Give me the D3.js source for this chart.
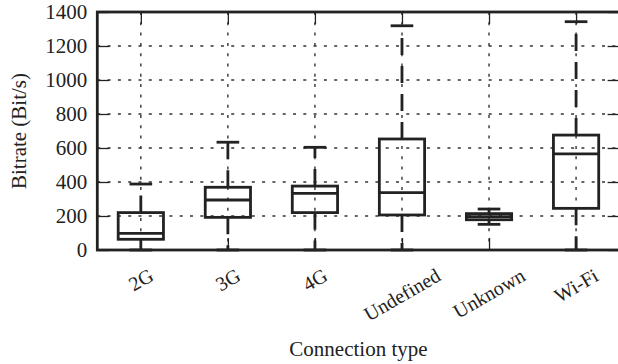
<!DOCTYPE html>
<html>
<head>
<meta charset="utf-8">
<script src="https://cdn.jsdelivr.net/npm/d3@7"></script>
<style>
  body { margin: 0; background: #fff; }
  svg { display: block; }
</style>
</head>
<body>
<svg id="chart" width="618" height="364"></svg>
<script>
// box plot data
var categories = ["2G", "3G", "4G", "Undefined", "Unknown", "Wi-Fi"];
var lowWhisker = [0, 0, 0, 0, 151, 0];
var q1 = [63, 192, 220, 206, 178, 245];
var median = [98, 294, 333, 337, 196, 565];
var q3 = [220, 369, 376, 653, 214, 676];
var highWhisker = [388, 634, 604, 1319, 241, 1343];
var yTicks = [0, 200, 400, 600, 800, 1000, 1200, 1400];

var svg = d3.select("#chart");
var plotL = 97.3, plotR = 619.6, plotT = 12, plotB = 250;
var ink = "#222";
var serif = "'Liberation Serif', 'Times New Roman', serif";

var x = d3.scalePoint().domain(categories).range([plotL, plotR]).padding(0.5);
var y = d3.scaleLinear().domain([0, 1400]).range([plotB, plotT]);
var step = x.step();
var boxW = step * 0.52;
var capW = boxW / 2;

// dotted grid
var grid = svg.append("g").attr("class", "grid");
grid.selectAll("line.h").data(yTicks.slice(1, -1)).join("line")
	.attr("class", "h")
	.attr("x1", plotL).attr("x2", plotR)
	.attr("y1", d => y(d)).attr("y2", d => y(d));
grid.selectAll("line.v").data(categories).join("line")
	.attr("class", "v")
	.attr("x1", d => x(d)).attr("x2", d => x(d))
	.attr("y1", plotT).attr("y2", plotB);
grid.selectAll("line")
	.attr("stroke", "#333").attr("stroke-width", 1.4)
	.attr("stroke-dasharray", "3,7.3");

// axes with inward ticks on all four sides
function styleAxis(g) {
	g.select(".domain").remove();
	g.selectAll(".tick line").attr("stroke", ink).attr("stroke-width", 1.3);
}
svg.append("g").attr("transform", `translate(${plotL},0)`)
	.call(d3.axisLeft(y).tickValues(yTicks).tickSize(-12).tickPadding(10).tickFormat(d3.format("d")))
	.call(styleAxis)
	.call(g => g.attr("font-family", null).attr("font-size", null))
	.selectAll("text")
	.style("font-family", serif).style("font-size", "21px").attr("fill", ink);
svg.append("g").attr("transform", `translate(${plotR},0)`)
	.call(d3.axisRight(y).tickValues(yTicks).tickSize(-12).tickFormat(""))
	.call(styleAxis);
svg.append("g").attr("transform", `translate(0,${plotB})`)
	.call(d3.axisBottom(x).tickSize(-12).tickFormat(""))
	.call(styleAxis);
svg.append("g").attr("transform", `translate(0,${plotT})`)
	.call(d3.axisTop(x).tickSize(-12).tickFormat(""))
	.call(styleAxis);

// boxes
var rows = categories.map((c, i) => ({
	c: c, lo: lowWhisker[i], q1: q1[i], med: median[i], q3: q3[i], hi: highWhisker[i]
}));
var box = svg.append("g").selectAll("g").data(rows).join("g");

box.append("line") // lower whisker
	.attr("x1", d => x(d.c)).attr("x2", d => x(d.c))
	.attr("y1", d => y(d.q1)).attr("y2", d => y(d.lo))
	.attr("stroke-dasharray", "17,11");
box.append("line") // upper whisker
	.attr("x1", d => x(d.c)).attr("x2", d => x(d.c))
	.attr("y1", d => y(d.q3)).attr("y2", d => y(d.hi))
	.attr("stroke-dasharray", "17,11");
box.append("line") // caps
	.attr("x1", d => x(d.c) - capW / 2).attr("x2", d => x(d.c) + capW / 2)
	.attr("y1", d => y(d.lo)).attr("y2", d => y(d.lo));
box.append("line")
	.attr("x1", d => x(d.c) - capW / 2).attr("x2", d => x(d.c) + capW / 2)
	.attr("y1", d => y(d.hi)).attr("y2", d => y(d.hi));
box.append("rect")
	.attr("x", d => x(d.c) - boxW / 2).attr("width", boxW)
	.attr("y", d => y(d.q3)).attr("height", d => y(d.q1) - y(d.q3))
	.attr("fill", "none");
box.append("line") // median
	.attr("x1", d => x(d.c) - boxW / 2).attr("x2", d => x(d.c) + boxW / 2)
	.attr("y1", d => y(d.med)).attr("y2", d => y(d.med));
box.selectAll("line, rect").attr("stroke", ink).attr("stroke-width", 2.8);

// frame
svg.append("rect")
	.attr("x", plotL).attr("y", plotT)
	.attr("width", plotR - plotL).attr("height", plotB - plotT)
	.attr("fill", "none").attr("stroke", ink).attr("stroke-width", 2.8);

// rotated category labels, centred under each tick
svg.append("g").selectAll("text").data(categories).join("text")
	.style("font-family", serif).style("font-size", "20px").attr("fill", ink)
	.attr("text-anchor", "middle")
	.attr("dominant-baseline", "central")
	.text(d => d)
	.each(function (d) {
		var b = this.getBBox();
		var a = Math.PI / 6;
		var h = b.width * Math.sin(a) + b.height * Math.cos(a);
		var cy = 264 + h / 2;
		d3.select(this).attr("transform", `translate(${x(d)},${cy}) rotate(-30)`);
	});

// axis titles
svg.append("text")
	.attr("x", (plotL + plotR) / 2).attr("y", 356)
	.attr("text-anchor", "middle")
	.style("font-family", serif).style("font-size", "21px").attr("fill", ink)
	.text("Connection type");
svg.append("text")
	.attr("transform", `translate(19,${(plotT + plotB) / 2}) rotate(-90)`)
	.attr("text-anchor", "middle").attr("dominant-baseline", "central")
	.style("font-family", serif).style("font-size", "21px").attr("fill", ink)
	.text("Bitrate (Bit/s)");
</script>
</body>
</html>
